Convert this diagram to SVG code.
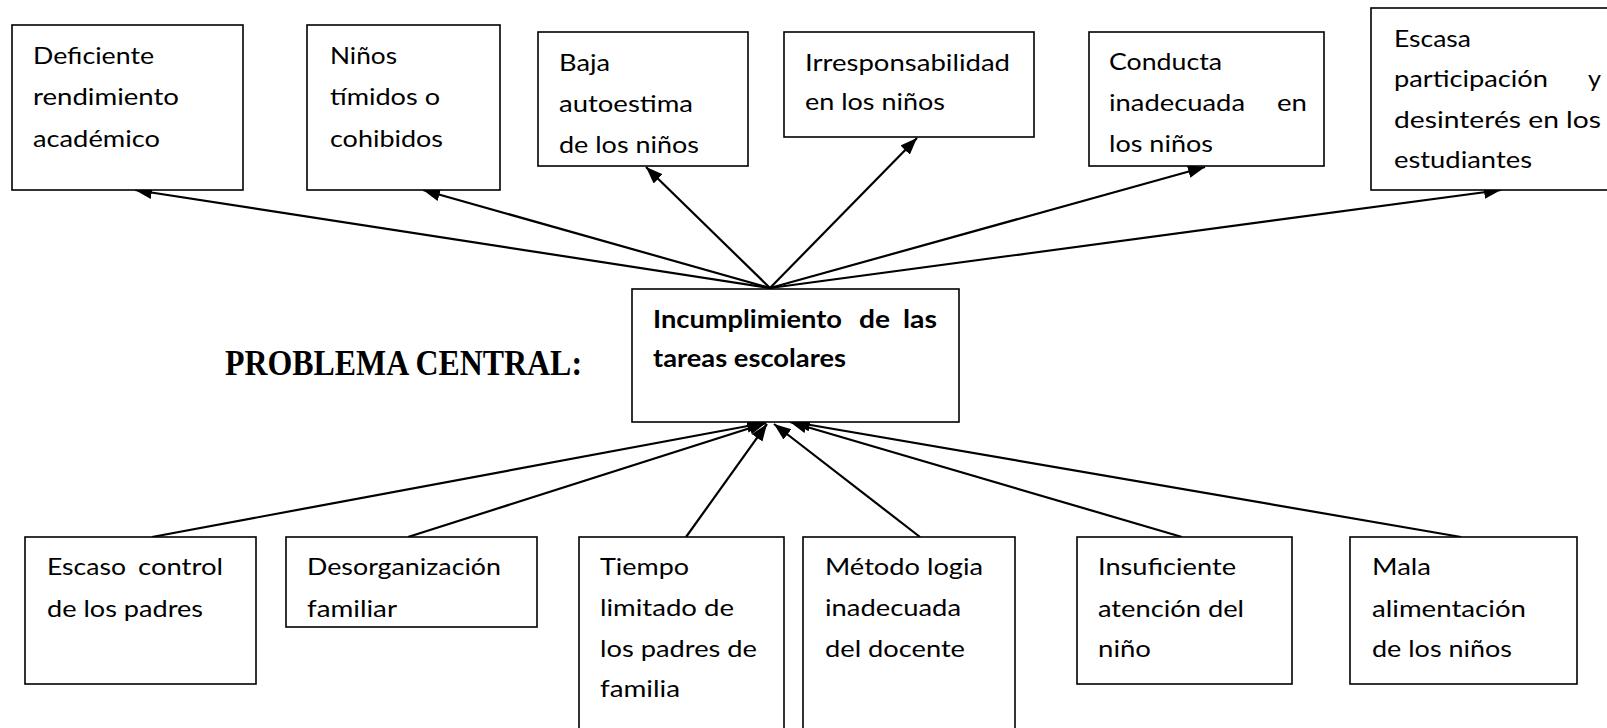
<svg xmlns="http://www.w3.org/2000/svg" width="1607" height="728" viewBox="0 0 1607 728">
<defs>
<style>
.box{fill:#fff;stroke:#000;stroke-width:1.6}
.t{font-family:Lato,"Open Sans","Liberation Sans",sans-serif;font-size:24px;fill:#000}
.b{font-family:Lato,"Open Sans","Liberation Sans",sans-serif;font-size:24px;font-weight:bold;fill:#000}
.h{font-family:"Liberation Serif","Times New Roman",serif;font-size:36px;font-weight:bold;fill:#000}
.c{stroke:#000;stroke-width:2.2;fill:none;marker-end:url(#ah)}
</style>
<marker id="ah" markerUnits="userSpaceOnUse" markerWidth="18" markerHeight="14" refX="17" refY="6.5" orient="auto">
<path d="M0,0 L17,6.5 L0,13 Z" fill="#000"/>
</marker>
</defs>
<rect width="1607" height="728" fill="#fff"/>

<g id="connectors">
<line class="c" x1="770" y1="288" x2="135" y2="190"/>
<line class="c" x1="770" y1="288" x2="423" y2="190"/>
<line class="c" x1="770" y1="288" x2="646" y2="167"/>
<line class="c" x1="770" y1="288" x2="917" y2="138"/>
<line class="c" x1="770" y1="288" x2="1205" y2="167"/>
<line class="c" x1="770" y1="288" x2="1501" y2="190"/>
<line class="c" x1="152" y1="537" x2="764" y2="423"/>
<line class="c" x1="408" y1="537" x2="766" y2="423"/>
<line class="c" x1="686" y1="537" x2="767" y2="424"/>
<line class="c" x1="920" y1="537" x2="774" y2="424"/>
<line class="c" x1="1182" y1="537" x2="790" y2="422"/>
<line class="c" x1="1461" y1="537" x2="793" y2="422"/>
</g>

<g id="n-deficiente">
<rect class="box" x="12" y="25" width="231" height="165"/>
<text class="t" x="33" y="64" textLength="121" lengthAdjust="spacingAndGlyphs">Deficiente</text>
<text class="t" x="33" y="105" textLength="146" lengthAdjust="spacingAndGlyphs">rendimiento</text>
<text class="t" x="33" y="147" textLength="127" lengthAdjust="spacingAndGlyphs">académico</text>
</g>

<g id="n-timidos">
<rect class="box" x="307" y="25" width="193" height="165"/>
<text class="t" x="330" y="64" textLength="67" lengthAdjust="spacingAndGlyphs">Niños</text>
<text class="t" x="330" y="105" textLength="110" lengthAdjust="spacingAndGlyphs">tímidos o</text>
<text class="t" x="330" y="147" textLength="113" lengthAdjust="spacingAndGlyphs">cohibidos</text>
</g>

<g id="n-autoestima">
<rect class="box" x="538" y="32" width="210" height="134"/>
<text class="t" x="559" y="71" textLength="51" lengthAdjust="spacingAndGlyphs">Baja</text>
<text class="t" x="559" y="112" textLength="134" lengthAdjust="spacingAndGlyphs">autoestima</text>
<text class="t" x="559" y="153" textLength="140" lengthAdjust="spacingAndGlyphs">de los niños</text>
</g>

<g id="n-irresponsabilidad">
<rect class="box" x="784" y="32" width="250" height="105"/>
<text class="t" x="805" y="71" textLength="205" lengthAdjust="spacingAndGlyphs">Irresponsabilidad</text>
<text class="t" x="805" y="110" textLength="140" lengthAdjust="spacingAndGlyphs">en los niños</text>
</g>

<g id="n-conducta">
<rect class="box" x="1089" y="32" width="235" height="134"/>
<text class="t" x="1109" y="70" textLength="113" lengthAdjust="spacingAndGlyphs">Conducta</text>
<text class="t" x="1109" y="111" textLength="136" lengthAdjust="spacingAndGlyphs">inadecuada</text>
<text class="t" x="1277" y="111" textLength="30" lengthAdjust="spacingAndGlyphs">en</text>
<text class="t" x="1109" y="152" textLength="104" lengthAdjust="spacingAndGlyphs">los niños</text>
</g>

<g id="n-escasa">
<rect class="box" x="1371" y="8" width="250" height="182"/>
<text class="t" x="1394" y="47" textLength="77" lengthAdjust="spacingAndGlyphs">Escasa</text>
<text class="t" x="1394" y="87" textLength="154" lengthAdjust="spacingAndGlyphs">participación</text>
<text class="t" x="1588" y="87" textLength="13" lengthAdjust="spacingAndGlyphs">y</text>
<text class="t" x="1394" y="128" textLength="207" lengthAdjust="spacingAndGlyphs">desinterés en los</text>
<text class="t" x="1394" y="168" textLength="138" lengthAdjust="spacingAndGlyphs">estudiantes</text>
</g>

<g id="title">
<text class="h" x="225" y="375" textLength="357" lengthAdjust="spacingAndGlyphs">PROBLEMA CENTRAL:</text>
</g>

<g id="n-central">
<rect class="box" x="632" y="289" width="327" height="133"/>
<text class="b" x="653" y="328" textLength="189" lengthAdjust="spacingAndGlyphs">Incumplimiento</text>
<text class="b" x="859" y="328" textLength="31" lengthAdjust="spacingAndGlyphs">de</text>
<text class="b" x="903" y="328" textLength="34" lengthAdjust="spacingAndGlyphs">las</text>
<text class="b" x="653" y="367" textLength="193" lengthAdjust="spacingAndGlyphs">tareas escolares</text>
</g>

<g id="n-escaso">
<rect class="box" x="25" y="537" width="231" height="147"/>
<text class="t" x="47" y="575" textLength="79" lengthAdjust="spacingAndGlyphs">Escaso</text>
<text class="t" x="138" y="575" textLength="85" lengthAdjust="spacingAndGlyphs">control</text>
<text class="t" x="47" y="617" textLength="156" lengthAdjust="spacingAndGlyphs">de los padres</text>
</g>

<g id="n-desorganizacion">
<rect class="box" x="286" y="537" width="251" height="90"/>
<text class="t" x="307" y="575" textLength="194" lengthAdjust="spacingAndGlyphs">Desorganización</text>
<text class="t" x="307" y="617" textLength="90" lengthAdjust="spacingAndGlyphs">familiar</text>
</g>

<g id="n-tiempo">
<rect class="box" x="579" y="537" width="205" height="200"/>
<text class="t" x="600" y="575" textLength="89" lengthAdjust="spacingAndGlyphs">Tiempo</text>
<text class="t" x="600" y="616" textLength="134" lengthAdjust="spacingAndGlyphs">limitado de</text>
<text class="t" x="600" y="657" textLength="157" lengthAdjust="spacingAndGlyphs">los padres de</text>
<text class="t" x="600" y="697" textLength="80" lengthAdjust="spacingAndGlyphs">familia</text>
</g>

<g id="n-metodo">
<rect class="box" x="803" y="537" width="212" height="200"/>
<text class="t" x="825" y="575" textLength="158" lengthAdjust="spacingAndGlyphs">Método logia</text>
<text class="t" x="825" y="616" textLength="136" lengthAdjust="spacingAndGlyphs">inadecuada</text>
<text class="t" x="825" y="657" textLength="140" lengthAdjust="spacingAndGlyphs">del docente</text>
</g>

<g id="n-insuficiente">
<rect class="box" x="1077" y="537" width="215" height="147"/>
<text class="t" x="1098" y="575" textLength="138" lengthAdjust="spacingAndGlyphs">Insuficiente</text>
<text class="t" x="1098" y="617" textLength="146" lengthAdjust="spacingAndGlyphs">atención del</text>
<text class="t" x="1098" y="657" textLength="53" lengthAdjust="spacingAndGlyphs">niño</text>
</g>

<g id="n-mala">
<rect class="box" x="1350" y="537" width="227" height="147"/>
<text class="t" x="1372" y="575" textLength="59" lengthAdjust="spacingAndGlyphs">Mala</text>
<text class="t" x="1372" y="617" textLength="154" lengthAdjust="spacingAndGlyphs">alimentación</text>
<text class="t" x="1372" y="657" textLength="140" lengthAdjust="spacingAndGlyphs">de los niños</text>
</g>
</svg>
